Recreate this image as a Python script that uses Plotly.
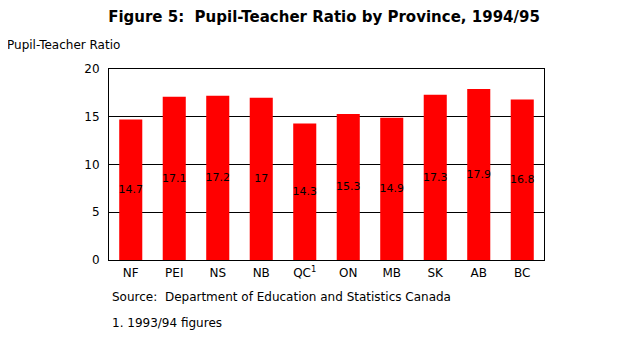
import plotly.graph_objects as go

provinces = ["NF", "PEI", "NS", "NB", "QC<sup>1</sup>", "ON", "MB", "SK", "AB", "BC"]
ratios = [14.7, 17.1, 17.2, 17.0, 14.3, 15.3, 14.9, 17.3, 17.9, 16.8]
labels = ["14.7", "17.1", "17.2", "17", "14.3", "15.3", "14.9", "17.3", "17.9", "16.8"]
y_ticks = [0, 5, 10, 15, 20]

font = "DejaVu Sans, Liberation Sans, Arial, sans-serif"

fig = go.Figure(go.Bar(
    x=provinces, y=ratios, text=labels,
    textposition="inside", insidetextanchor="middle", textangle=0,
    textfont=dict(family=font, size=11, color="black"),
    marker=dict(color="#ff0000", line=dict(width=0)),
    cliponaxis=False,
))

# page body has an 8px margin, so the figure is 632x352 to fill 640x360
fig.update_layout(
    width=632, height=352,
    margin=dict(l=101, r=96, t=61, b=100),
    paper_bgcolor="white", plot_bgcolor="white",
    bargap=0.47,
    showlegend=False,
    font=dict(family=font, size=12, color="black"),
    title=dict(text="<b>Figure 5:  Pupil-Teacher Ratio by Province, 1994/95</b>",
               x=0.5, xanchor="center", y=0.974, yanchor="middle",
               font=dict(family=font, size=15, color="black")),
    uniformtext=dict(mode="show", minsize=10),
)
fig.update_xaxes(showline=True, linecolor="black", linewidth=1, mirror=True,
                 ticks="", tickfont=dict(size=12), ticklabelstandoff=2)
fig.update_yaxes(range=[0, 20], tickvals=y_ticks, showline=True, linecolor="black",
                 linewidth=1, mirror=True, showgrid=True, gridcolor="black", gridwidth=1,
                 ticks="", tickfont=dict(size=12), zeroline=False, ticklabelstandoff=6)

fig.add_annotation(text="Pupil-Teacher Ratio", xref="paper", yref="paper",
                   x=-0.239, y=1.126, xanchor="left", yanchor="middle",
                   showarrow=False, font=dict(size=12))
fig.add_annotation(text="Source:  Department of Education and Statistics Canada",
                   xref="paper", yref="paper", x=0.002, y=-0.194,
                   xanchor="left", yanchor="middle", showarrow=False, font=dict(size=12))
fig.add_annotation(text="1. 1993/94 figures",
                   xref="paper", yref="paper", x=0.002, y=-0.33,
                   xanchor="left", yanchor="middle", showarrow=False, font=dict(size=12))

fig.write_html("out.html")
